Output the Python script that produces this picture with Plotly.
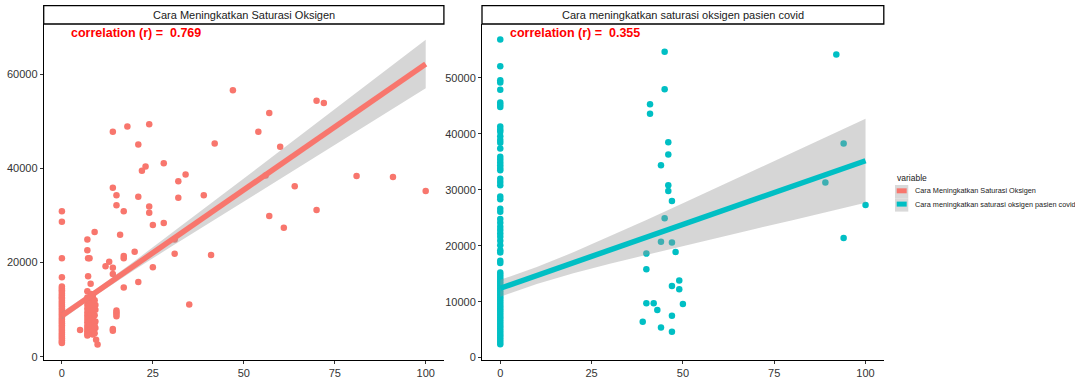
import plotly.graph_objects as go

W, H = 1075, 379

# ---------------- data ----------------
panel_titles = ["Cara Meningkatkan Saturasi Oksigen", "Cara meningkatkan saturasi oksigen pasien covid"]
corr_labels = ["correlation (r) =  0.769", "correlation (r) =  0.355"]
legend_title = "variable"
series_colors = ["#F8766D", "#00BFC4"]

x_ticks = [0, 25, 50, 75, 100]
y_ticks_left = [0, 20000, 40000, 60000]
y_ticks_right = [0, 10000, 20000, 30000, 40000, 50000]

# left panel points
left_x = [47, 70, 72, 57, 24, 18, 14, 54, 21, 42, 60, 28, 23, 22, 34, 32, 81, 91, 100, 64,
          14, 15, 21, 32, 39, 15, 24, 24, 17, 0, 0, 25, 28, 70, 57, 61, 9, 16, 7, 7,
          20, 31, 41, 17, 17, 56, 31,
          0, 0, 7.2, 7.6, 7.2, 7.9, 13, 12, 14, 14, 25, 21, 17, 35, 15, 15, 15, 15, 14, 14, 5,
          9.2, 9.2, 9.2, 9.2, 9.4, 9.8]
left_y = [56600, 54400, 53900, 51800, 49400, 48900, 47800, 47800, 45100, 45300, 44600, 41100, 40400, 39500, 38700, 37300, 38400, 38200, 35200, 36200,
          35900, 34300, 34000, 33800, 34300, 32200, 31900, 30600, 30900, 30900, 28700, 28000, 28400, 31200, 29900, 27400, 26500, 25900, 24900, 22600,
          22300, 21900, 21600, 21400, 20900, 38500, 24900,
          20900, 16900, 20900, 20900, 17100, 15500, 20200, 19200, 18900, 17600, 19000, 15900, 14700, 11100, 9800, 9400, 9100, 8600, 5900, 5500, 5700,
          11000, 10000, 7500, 6100, 3600, 2600]
# dense column at x = 0 (left)
left_col0_y = [14900, 14500, 14100, 13800, 13400, 13000, 12600, 12300, 11900, 11500, 11100, 10700,
               10300, 9900, 9500, 9100, 8700, 8300, 7900, 7500, 7100, 6700, 6300, 5900, 5500, 5100,
               4700, 4300, 3900, 3500, 3100, 2900]
# dense cluster around x = 7..9 (left)
left_c7_y = [13900, 12600, 11800, 11000, 10200, 9400, 8700, 8000, 7300, 6600, 6000, 5400, 4900, 4500]
left_c75_y = [12300, 10800, 9600, 8400, 7200, 6300, 5600, 4800]
left_c8_y = [13300, 12000, 11300, 10600, 9100, 7800, 7000, 6700, 5900, 5200]
left_c85_y = [13000, 12400, 9800, 8200, 6900, 5400, 4700]
left_c9_y = [12000, 8800, 7200, 6400, 5000]

# right panel points
right_x = [45, 92, 45, 41, 41, 46, 94, 46, 44, 46, 46, 47, 89, 100, 45, 44, 47, 94, 48, 40,
           40, 47, 49, 49, 50, 40, 42, 43, 39, 47, 44, 47]
right_y = [54700, 54200, 48000, 45300, 43600, 38500, 38300, 36300, 34400, 30800, 29800, 28000, 31300, 27300, 24900, 20700, 20600, 21400, 18900, 18600,
           15800, 12800, 13800, 12200, 9600, 9700, 9700, 8500, 6400, 7500, 5400, 4600]
# column at x = 0 (right)
right_col0_y = [56900, 52100, 49600, 49200, 47900, 45600, 45200, 44800, 41300, 40800, 40400, 39600,
                38900, 38400, 37400, 35900, 35400, 34900, 34400, 33900, 33500, 32000, 31400, 30800,
                28800, 28300, 26600, 26100, 24800, 24100, 23400, 22800, 22200, 21600, 20900, 20100,
                19200, 18800, 17300, 16900, 15200, 14800, 14400, 14000, 13600, 13200, 12800, 12400,
                12000, 11600, 11200, 10800, 10400, 10000, 9600, 9200, 8800, 8400, 8000, 7600, 7200,
                6800, 6400, 6000, 5600, 5200, 4800, 4400, 4000, 3600, 3200, 2800, 2400]

# fitted line and confidence band
fit_x = [0, 10, 20, 30, 40, 50, 60, 70, 80, 90, 100]
left_fit = [8700, 14050, 19400, 24750, 30100, 35450, 40800, 46150, 51500, 56850, 62200]
left_lo = [7900, 13370, 18455, 23360, 28200, 33025, 37840, 42650, 47450, 52250, 57050]
left_hi = [9500, 14730, 20345, 26140, 32000, 37875, 43760, 49650, 55550, 61450, 67350]
right_fit = [12400, 14680, 16960, 19240, 21520, 23800, 26080, 28360, 30640, 32920, 35200]
right_lo = [10900, 13180, 15090, 16800, 18420, 19990, 21530, 23060, 24580, 26100, 27700]
right_hi = [13900, 16180, 18830, 21680, 24620, 27610, 30630, 33660, 36700, 39740, 42700]

# ---------------- assemble ----------------
lx = list(left_x) + [0] * len(left_col0_y) + [7] * len(left_c7_y) + [7.5] * len(left_c75_y) \
     + [8] * len(left_c8_y) + [8.5] * len(left_c85_y) + [9] * len(left_c9_y)
ly = list(left_y) + left_col0_y + left_c7_y + left_c75_y + left_c8_y + left_c85_y + left_c9_y
rx = list(right_x) + [0] * len(right_col0_y)
ry = list(right_y) + right_col0_y

band_fill = "rgba(153,153,153,0.4)"
fig = go.Figure()

for (px_, py_, fit, lo, hi, col, xa, ya) in [
    (lx, ly, left_fit, left_lo, left_hi, series_colors[0], "x", "y"),
    (rx, ry, right_fit, right_lo, right_hi, series_colors[1], "x2", "y2"),
]:
    fig.add_trace(go.Scatter(x=px_, y=py_, mode="markers", xaxis=xa, yaxis=ya,
                             marker=dict(color=col, size=6.5, line=dict(width=0)),
                             showlegend=False, hoverinfo="skip"))
    fig.add_trace(go.Scatter(x=fit_x + fit_x[::-1], y=hi + lo[::-1], mode="lines",
                             fill="toself", fillcolor=band_fill, line=dict(width=0),
                             xaxis=xa, yaxis=ya, showlegend=False, hoverinfo="skip"))
    fig.add_trace(go.Scatter(x=fit_x, y=fit, mode="lines", xaxis=xa, yaxis=ya,
                             line=dict(color=col, width=5.5), showlegend=False, hoverinfo="skip"))

# geometry (pixels)
top_px, bot_px = 24.0, 360.0
ydom = [(H - bot_px) / H, (H - top_px) / H]
left_dom = [43.7 / W, 443.9 / W]
right_dom = [482.0 / W, 883.8 / W]

tickfont = dict(family="Liberation Sans, Arial, sans-serif", size=11, color="#333333")
axis_common = dict(showgrid=False, zeroline=False, showline=True, linecolor="black", linewidth=1,
                   ticks="outside", ticklen=3, tickwidth=1, tickcolor="#333333", tickfont=tickfont,
                   automargin=False)

fig.update_layout(
    width=W, height=H, margin=dict(l=0, r=0, t=0, b=0, autoexpand=False),
    paper_bgcolor="white", plot_bgcolor="white", showlegend=False,
    xaxis=dict(domain=left_dom, range=[-5, 105], tickvals=x_ticks, anchor="y", **axis_common),
    yaxis=dict(domain=ydom, range=[-700, 70700], tickvals=y_ticks_left, tickformat="d", anchor="x", **axis_common),
    xaxis2=dict(domain=right_dom, range=[-5, 105], tickvals=x_ticks, anchor="y2", **axis_common),
    yaxis2=dict(domain=ydom, range=[-430, 59650], tickvals=y_ticks_right, tickformat="d", anchor="x2", **axis_common),
)

shapes = []
annotations = []
strip_y0, strip_y1 = (H - 24.0) / H, (H - 5.7) / H
for dom, title in [(left_dom, panel_titles[0]), (right_dom, panel_titles[1])]:
    shapes.append(dict(type="rect", xref="paper", yref="paper", x0=dom[0], x1=dom[1],
                       y0=strip_y0, y1=strip_y1, line=dict(color="black", width=1.3), fillcolor="white"))
    annotations.append(dict(xref="paper", yref="paper", x=(dom[0] + dom[1]) / 2, y=(strip_y0 + strip_y1) / 2,
                            text=title, showarrow=False, xanchor="center", yanchor="middle",
                            font=dict(family="Liberation Sans, Arial, sans-serif", size=11, color="#1A1A1A")))

for xpx, lab in [(69.3, corr_labels[0]), (508.3, corr_labels[1])]:
    annotations.append(dict(xref="paper", yref="paper", x=xpx / W, y=(H - 32.5) / H, text="<b>" + lab + "</b>",
                            showarrow=False, xanchor="left", yanchor="middle",
                            font=dict(family="Liberation Sans, Arial, sans-serif", size=12.5, color="#FF0000")))

# legend drawn manually
annotations.append(dict(xref="paper", yref="paper", x=894.5 / W, y=(H - 177.5) / H, text=legend_title,
                        showarrow=False, xanchor="left", yanchor="middle",
                        font=dict(family="Liberation Sans, Arial, sans-serif", size=8.5, color="#1A1A1A")))
for i, (name, col) in enumerate(zip(panel_titles, series_colors)):
    ky0 = 185.0 + 13.3 * i
    shapes.append(dict(type="rect", xref="paper", yref="paper", x0=895 / W, x1=908.3 / W,
                       y0=(H - ky0 - 13.3) / H, y1=(H - ky0) / H, line=dict(width=0), fillcolor="#D9D9D9"))
    shapes.append(dict(type="rect", xref="paper", yref="paper", x0=896.7 / W, x1=906.7 / W,
                       y0=(H - ky0 - 8.3) / H, y1=(H - ky0 - 3.3) / H, line=dict(width=0), fillcolor=col))
    annotations.append(dict(xref="paper", yref="paper", x=912.5 / W, y=(H - ky0 - 5.9) / H, text=name,
                            showarrow=False, xanchor="left", yanchor="middle",
                            font=dict(family="Liberation Sans, Arial, sans-serif", size=7.3, color="#1A1A1A")))

fig.update_layout(shapes=shapes, annotations=annotations)
fig.write_html("out.html", config={"displayModeBar": False},
               post_script="document.body.style.margin='0';document.body.style.padding='0';"
                           "document.documentElement.style.overflow='hidden';")
